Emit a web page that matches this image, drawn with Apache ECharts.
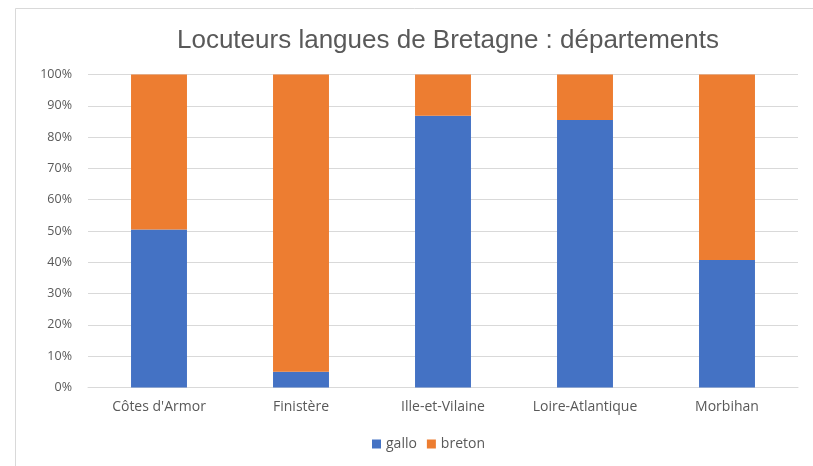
<!DOCTYPE html>
<html><head><meta charset="utf-8">
<script src="https://cdn.jsdelivr.net/npm/echarts@6/dist/echarts.min.js"></script>
<style>html,body{margin:0;padding:0;background:#fff}#c{width:813px;height:466px}</style>
</head><body><div id="c"></div>
<script>
const categories = ["Côtes d'Armor", "Finistère", "Ille-et-Vilaine", "Loire-Atlantique", "Morbihan"];
const gallo = [50.5, 5.0, 86.8, 85.5, 40.7];
const breton = [49.5, 95.0, 13.2, 14.5, 59.3];
const font = "'Open Sans', 'Noto Sans', sans-serif";
const chart = echarts.init(document.getElementById('c'), null, {renderer:'canvas'});
chart.setOption({
  animation:false,
  backgroundColor:'#fff',
  graphic:[{type:'rect',shape:{x:15.5,y:8.5,width:820,height:470},style:{fill:'none',stroke:'#d9d9d9',lineWidth:1},silent:true}],
  title:{text:'Locuteurs langues de Bretagne : départements',left:443,top:23,textAlign:'center',
    textStyle:{fontFamily:"'Liberation Sans', Arial, sans-serif",fontSize:26,fontWeight:'normal',color:'#595959'}},
  legend:{bottom:10,left:367,itemWidth:9,itemHeight:9,itemGap:10,icon:'rect',
    textStyle:{fontFamily:font,fontSize:14,color:'#595959'},data:['gallo','breton']},
  grid:{left:88,right:15,top:74.5,bottom:78.5,containLabel:false},
  xAxis:{type:'category',data:categories,axisTick:{show:false},
    axisLine:{lineStyle:{color:'#d9d9d9'}},
    axisLabel:{fontFamily:font,fontSize:14,color:'#595959',margin:13}},
  yAxis:{type:'value',min:0,max:100,interval:10,
    axisLabel:{formatter:'{value}%',fontFamily:font,fontSize:12.5,color:'#595959',margin:16},
    splitLine:{lineStyle:{color:'#d9d9d9'}},axisLine:{show:false},axisTick:{show:false}},
  series:[
    {name:'gallo',type:'bar',stack:'a',data:gallo,barWidth:'39.4%',itemStyle:{color:'#4472C4'}},
    {name:'breton',type:'bar',stack:'a',data:breton,itemStyle:{color:'#ED7D31'}}
  ]
});
</script></body></html>
